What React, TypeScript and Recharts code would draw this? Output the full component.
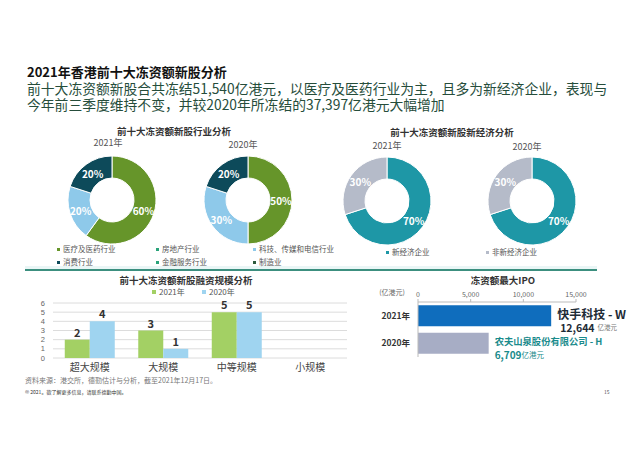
import React from 'react';
import { PieChart, Pie, Cell, BarChart, Bar, XAxis, YAxis, CartesianGrid, LabelList } from 'recharts';

const FONT = "'Noto Sans CJK SC', 'Noto Sans', sans-serif";
const NUMFONT = "'Liberation Sans', 'DejaVu Sans', sans-serif";

// Donut: industry analysis
const industryDonutNames = ['医疗及医药行业', '科技、传媒和电信行业', '消费行业'];
const industryDonutColors = ['#66952a', '#8ec9ea', '#0d4a5a'];
const industry2021 = [60, 20, 20];
const industry2020 = [50, 30, 20];

// Industry legend
const industryLegendNames = ['医疗及医药行业', '房地产行业', '科技、传媒和电信行业', '消费行业', '金融服务行业', '制造业'];
const industryLegendColors = ['#66952a', '#2aa37a', '#8ec9ea', '#0d4a5a', '#2aa37a', '#2d5a3c'];

// Donut: new economy
const econNames = ['新经济企业', '非新经济企业'];
const econColors = ['#1e97a6', '#b5bbc9'];
const econ2021 = [70, 30];
const econ2020 = [70, 30];

// Financing scale bar chart
const scaleCategories = ['超大规模', '大规模', '中等规模', '小规模'];
const scale2021 = [2, 3, 5, 0];
const scale2020 = [4, 1, 5, 0];
const scaleTicks = [0, 1, 2, 3, 4, 5, 6];

// Largest IPO
const ipoYears = ['2021年', '2020年'];
const ipoValues = [12644, 6709];
const ipoNames = ['快手科技 - W', '农夫山泉股份有限公司 - H'];
const ipoColors = ['#0f6dbd', '#a7adc5'];
const ipoTicks = [0, 5000, 10000, 15000];

const RAD = Math.PI / 180;

const donutLabel = (props: any) => {
  const { cx, cy, midAngle, innerRadius, outerRadius, value } = props;
  const r = (innerRadius + outerRadius) / 2;
  const x = cx + r * Math.cos(-midAngle * RAD);
  const y = cy + r * Math.sin(-midAngle * RAD);
  return (
    <text x={x} y={y} fill="#ffffff" textAnchor="middle" dominantBaseline="central"
      style={{ fontFamily: FONT, fontSize: 10, fontWeight: 700 }}>
      {value}%
    </text>
  );
};

const mk = (names: string[], vals: number[]) => names.map((n, i) => ({ name: n, value: vals[i] }));

const abs = (left: number, top: number, extra: any = {}): any => ({ position: 'absolute', left, top, ...extra });

const Donuts = ({ names, colors, a, b, cxA, cxB, cy }: any) => (
  <PieChart width={300} height={110}>
    {[a, b].map((vals: number[], k: number) => (
      <Pie key={k} data={mk(names, vals)} dataKey="value" nameKey="name"
        cx={k === 0 ? cxA : cxB} cy={cy} innerRadius={22} outerRadius={44}
        startAngle={90} endAngle={-270} stroke="#ffffff" strokeWidth={1}
        label={donutLabel} labelLine={false} isAnimationActive={false}>
        {vals.map((_, i) => <Cell key={i} fill={colors[i]} />)}
      </Pie>
    ))}
  </PieChart>
);

const ipoLabel = (props: any) => {
  const { x, y, width, index } = props;
  const lx = x + width + 6;
  if (index === 0) {
    return (
      <g style={{ fontFamily: FONT }}>
        <text x={lx} y={y + 8} fill="#1e2b36" dominantBaseline="central" style={{ fontSize: 12, fontWeight: 700 }}>{ipoNames[index]}</text>
        <text x={lx + 3} y={y + 22} fill="#1e2b36" dominantBaseline="central">
          <tspan style={{ fontSize: 10.5, fontWeight: 700 }}>{ipoValues[index].toLocaleString('en-US')}</tspan>
          <tspan dx={3} fill="#777" style={{ fontSize: 6.5 }}>亿港元</tspan>
        </text>
      </g>
    );
  }
  return (
    <g style={{ fontFamily: FONT }}>
      <text x={lx} y={y + 8} fill="#1a8b8c" dominantBaseline="central" style={{ fontSize: 9.3, fontWeight: 700 }}>{ipoNames[index]}</text>
      <text x={lx} y={y + 21} fill="#1a8b8c" dominantBaseline="central">
        <tspan style={{ fontSize: 10, fontWeight: 700 }}>{ipoValues[index].toLocaleString('en-US')}</tspan>
        <tspan style={{ fontSize: 7.5 }}>亿港元</tspan>
      </text>
    </g>
  );
};

export default function App() {
  const scaleData = scaleCategories.map((c, i) => ({ cat: c, y2021: scale2021[i], y2020: scale2020[i] }));
  const ipoData = ipoYears.map((y, i) => ({ year: y, value: ipoValues[i] }));
  const legendText: any = { fontSize: 7.5, color: '#555', whiteSpace: 'nowrap', lineHeight: '10px' };
  const yearText: any = { fontSize: 9, color: '#555', whiteSpace: 'nowrap', lineHeight: '12px', transform: 'translateX(-50%)' };
  const secTitle: any = { fontSize: 9.5, fontWeight: 700, color: '#333', whiteSpace: 'nowrap', lineHeight: '12px', transform: 'translateX(-50%)' };

  return (
    <div style={{ position: 'absolute', left: 0, top: 0, width: 640, height: 452, background: '#fff', overflow: 'hidden', fontFamily: FONT }}>
      {/* Titles */}
      <div style={abs(27, 64, { fontSize: 13, fontWeight: 700, color: '#111', lineHeight: '16px', whiteSpace: 'nowrap' })}>
        2021年香港前十大冻资额新股分析
      </div>
      <div style={abs(27, 80, { fontSize: 13.8, color: '#264d3b', lineHeight: '16px', whiteSpace: 'nowrap' })}>
        前十大冻资额新股合共冻结51,540亿港元，以医疗及医药行业为主，且多为新经济企业，表现与
      </div>
      <div style={abs(27, 96, { fontSize: 13.8, color: '#264d3b', lineHeight: '16px', whiteSpace: 'nowrap' })}>
        今年前三季度维持不变，并较2020年所冻结的37,397亿港元大幅增加
      </div>

      {/* Section titles */}
      <div style={abs(174, 125, secTitle)}>前十大冻资额新股行业分析</div>
      <div style={abs(452, 126, secTitle)}>前十大冻资额新股新经济分析</div>

      <div style={abs(108, 137, yearText)}>2021年</div>
      <div style={abs(243, 139, yearText)}>2020年</div>
      <div style={abs(387, 140, yearText)}>2021年</div>
      <div style={abs(527, 141, yearText)}>2020年</div>

      {/* Donuts */}
      <div style={abs(20, 140)}>
        <Donuts names={industryDonutNames} colors={industryDonutColors} a={industry2021} b={industry2020} cxA={87} cxB={223} cy={55} />
      </div>
      <div style={abs(320, 140)}>
        <Donuts names={econNames} colors={econColors} a={econ2021} b={econ2020} cxA={62} cxB={207} cy={56} />
      </div>

      {/* Separator */}
      <div style={abs(25, 266, { width: 572, height: 3, background: '#eaf6f6' })} />
      <div style={abs(25, 269, { width: 572, height: 2, background: '#3c8f7f' })} />

      {/* Industry legend */}
      {industryLegendNames.map((n, i) => {
        const col = i % 3;
        const row = Math.floor(i / 3);
        const xs = [57, 156, 253];
        return (
          <div key={n} style={abs(xs[col], 244 + row * 13, { display: 'flex', alignItems: 'center' })}>
            <span style={{ width: 3, height: 3, background: industryLegendColors[i], marginRight: 3 }} />
            <span style={legendText}>{n}</span>
          </div>
        );
      })}
      {econNames.map((n, i) => (
        <div key={n} style={abs([386, 486][i], 247, { display: 'flex', alignItems: 'center' })}>
          <span style={{ width: 3, height: 3, background: econColors[i], marginRight: 3 }} />
          <span style={legendText}>{n}</span>
        </div>
      ))}

      {/* Financing scale */}
      <div style={abs(186, 274, secTitle)}>前十大冻资额新股融资规模分析</div>
      {['2021年', '2020年'].map((n, i) => (
        <div key={n} style={abs([152, 202][i], 287, { display: 'flex', alignItems: 'center' })}>
          <span style={{ width: 4, height: 4, background: ['#a3d064', '#9fd4f0'][i], marginRight: 3 }} />
          <span style={{ ...legendText, fontSize: 8 }}>{n}</span>
        </div>
      ))}
      <div style={abs(20, 295)}>
        <BarChart width={330} height={83} data={scaleData} margin={{ top: 8, right: 3, bottom: 0, left: 0 }}
          barCategoryGap="16%" barGap={0}>
          <CartesianGrid vertical={false} stroke="#dcdcdc" />
          <XAxis dataKey="cat" axisLine={false} tickLine={false} height={20} tickMargin={0}
            tick={{ fontSize: 10, fill: '#444', fontFamily: FONT }} interval={0} />
          <YAxis width={33} domain={[0, 6]} ticks={scaleTicks} axisLine={false} tickLine={false}
            tick={{ fontSize: 7.5, fill: '#666', fontFamily: NUMFONT }} interval={0} />
          <Bar dataKey="y2021" fill="#a3d064" isAnimationActive={false}>
            <LabelList dataKey="y2021" position="top" offset={3}
              formatter={(v: any) => (v ? v : '')}
              style={{ fontSize: 11, fontWeight: 700, fill: '#333', fontFamily: FONT }} />
          </Bar>
          <Bar dataKey="y2020" fill="#9fd4f0" isAnimationActive={false}>
            <LabelList dataKey="y2020" position="top" offset={3}
              formatter={(v: any) => (v ? v : '')}
              style={{ fontSize: 11, fontWeight: 700, fill: '#333', fontFamily: FONT }} />
          </Bar>
        </BarChart>
      </div>

      {/* Largest IPO */}
      <div style={abs(503, 274, secTitle)}>冻资额最大IPO</div>
      <div style={abs(392, 287, { fontSize: 7, color: '#666', whiteSpace: 'nowrap', lineHeight: '10px', transform: 'translateX(-50%)' })}>(亿港元)</div>
      <div style={abs(340, 282)}>
        <BarChart layout="vertical" width={300} height={88} data={ipoData}
          margin={{ top: 0, right: 64, bottom: 13, left: 0 }} barCategoryGap="12%">
          <XAxis type="number" orientation="top" domain={[0, 15000]} ticks={ipoTicks} height={20}
            tickFormatter={(v: number) => v.toLocaleString('en-US')} stroke="#bbb" tickSize={3} tickMargin={2}
            tick={{ fontSize: 7, fill: '#666', fontFamily: FONT }} interval={0} />
          <YAxis type="category" dataKey="year" width={78} stroke="#bbb" tickLine={false}
            tick={{ fontSize: 8.5, fill: '#333', fontWeight: 700, fontFamily: FONT }} />
          <Bar dataKey="value" isAnimationActive={false}>
            {ipoValues.map((_, i) => <Cell key={i} fill={ipoColors[i]} />)}
            <LabelList dataKey="value" content={ipoLabel} />
          </Bar>
        </BarChart>
      </div>

      {/* Footer */}
      <div style={abs(25, 375, { fontSize: 7, color: '#777', whiteSpace: 'nowrap', lineHeight: '10px' })}>
        资料来源：港交所，德勤估计与分析，截至2021年12月17日。
      </div>
      <div style={abs(25, 388, { fontSize: 5, color: '#333', whiteSpace: 'nowrap', lineHeight: '7px' })}>
        © 2021。欲了解更多信息，请联系德勤中国。
      </div>
      <div style={abs(604, 388, { fontSize: 5, color: '#555', whiteSpace: 'nowrap', lineHeight: '7px' })}>15</div>
    </div>
  );
}
